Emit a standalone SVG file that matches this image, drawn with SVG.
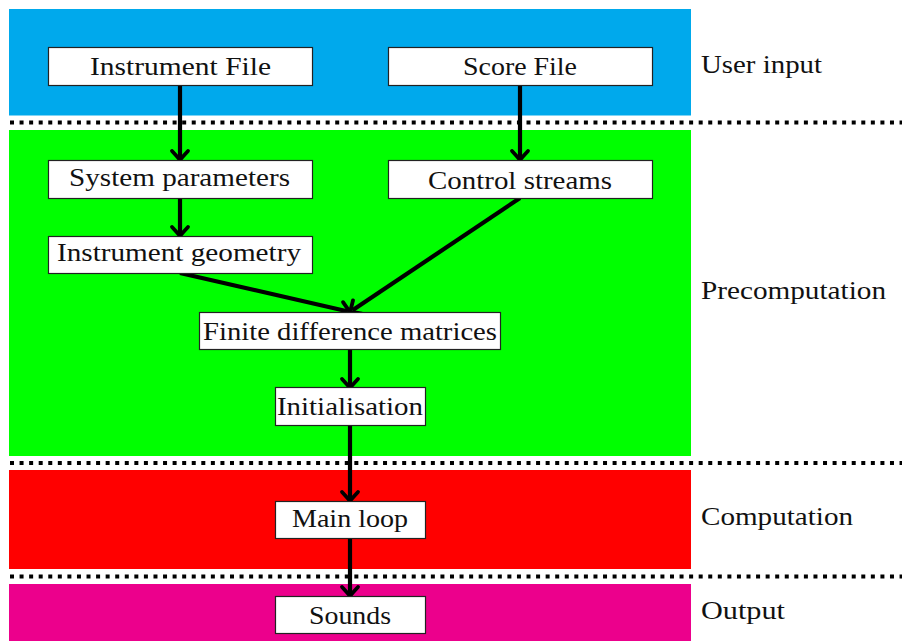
<svg xmlns="http://www.w3.org/2000/svg" width="902" height="641" viewBox="0 0 902 641">
<style>
.band-blue{fill:#00A9EC}
.band-green{fill:#00FF00}
.band-red{fill:#FF0000}
.band-mag{fill:#EC008C}
.sep{stroke:#000;stroke-width:4;stroke-dasharray:4 5.565;fill:none}
.box{fill:#fff;stroke:#222;stroke-width:1.2}
text{font-family:"Liberation Serif",Tinos,"Nimbus Roman","Nimbus Roman No9 L","Noto Serif","FreeSerif","DejaVu Serif",Times,"Times New Roman",serif;font-size:26px;fill:#111}
.mid{text-anchor:middle}
.conn{stroke:#000;stroke-width:4.2;fill:none;marker-end:url(#arr)}
</style>
<defs>
<marker id="arr" markerUnits="userSpaceOnUse" viewBox="-14 -12 24 24" refX="-3" refY="0" markerWidth="24" markerHeight="24" orient="auto" overflow="visible">
<path d="M -9,-8 Q -2.5,-2 0,0 Q -2.5,2 -9,8" fill="none" stroke="#000" stroke-width="3.8" stroke-linecap="round" stroke-linejoin="round"/>
</marker>
</defs>
<g id="bands">
<rect class="band-blue" x="9" y="9" width="682" height="106.5"/>
<rect class="band-green" x="9" y="130" width="682" height="326"/>
<rect class="band-red" x="9" y="470" width="682" height="99"/>
<rect class="band-mag" x="9" y="584" width="682" height="57"/>
<line class="sep" x1="10" y1="122.5" x2="902" y2="122.5"/>
<line class="sep" x1="10" y1="463" x2="902" y2="463"/>
<line class="sep" x1="10" y1="576.5" x2="902" y2="576.5"/>
</g>
<g id="connectors">
<line class="conn" x1="180" y1="85" x2="180" y2="157"/>
<line class="conn" x1="520" y1="85" x2="520" y2="157"/>
<line class="conn" x1="180" y1="198" x2="180" y2="233"/>
<line class="conn" x1="180" y1="273" x2="347.1" y2="311.3"/>
<line class="conn" x1="520" y1="198" x2="352.5" y2="310.3"/>
<line class="conn" x1="350" y1="350" x2="350" y2="385"/>
<line class="conn" x1="350" y1="425" x2="350" y2="498"/>
<line class="conn" x1="350" y1="538" x2="350" y2="593"/>
</g>
<g id="instrument-file">
<rect class="box" x="48.5" y="47.5" width="264" height="38"/>
<text class="mid" x="180.5" y="75" textLength="181" lengthAdjust="spacingAndGlyphs">Instrument File</text>
</g>
<g id="score-file">
<rect class="box" x="388.5" y="47.5" width="264" height="38"/>
<text class="mid" x="520" y="75" textLength="114" lengthAdjust="spacingAndGlyphs">Score File</text>
</g>
<g id="system-parameters">
<rect class="box" x="48.5" y="160.5" width="264" height="38"/>
<text class="mid" x="179.5" y="185.5" textLength="221" lengthAdjust="spacingAndGlyphs">System parameters</text>
</g>
<g id="control-streams">
<rect class="box" x="388.5" y="160.5" width="264" height="38"/>
<text class="mid" x="520" y="188.5" textLength="184" lengthAdjust="spacingAndGlyphs">Control streams</text>
</g>
<g id="instrument-geometry">
<rect class="box" x="48.5" y="236.5" width="264" height="37"/>
<text class="mid" x="179" y="261" textLength="244" lengthAdjust="spacingAndGlyphs">Instrument geometry</text>
</g>
<g id="finite-difference-matrices">
<rect class="box" x="199.5" y="312.5" width="301" height="37"/>
<text class="mid" x="350" y="340" textLength="294" lengthAdjust="spacingAndGlyphs">Finite difference matrices</text>
</g>
<g id="initialisation">
<rect class="box" x="275.5" y="387.5" width="150" height="38"/>
<text class="mid" x="350" y="415" textLength="146" lengthAdjust="spacingAndGlyphs">Initialisation</text>
</g>
<g id="main-loop">
<rect class="box" x="275.5" y="501.5" width="150" height="37"/>
<text class="mid" x="350" y="526.5" textLength="116" lengthAdjust="spacingAndGlyphs">Main loop</text>
</g>
<g id="sounds">
<rect class="box" x="275.5" y="596.5" width="150" height="37"/>
<text class="mid" x="350" y="624" textLength="82" lengthAdjust="spacingAndGlyphs">Sounds</text>
</g>
<g id="stage-labels">
<text x="701" y="73" textLength="121" lengthAdjust="spacingAndGlyphs">User input</text>
<text x="701" y="299" textLength="185" lengthAdjust="spacingAndGlyphs">Precomputation</text>
<text x="701" y="525" textLength="152" lengthAdjust="spacingAndGlyphs">Computation</text>
<text x="701" y="619" textLength="84" lengthAdjust="spacingAndGlyphs">Output</text>
</g>
</svg>
